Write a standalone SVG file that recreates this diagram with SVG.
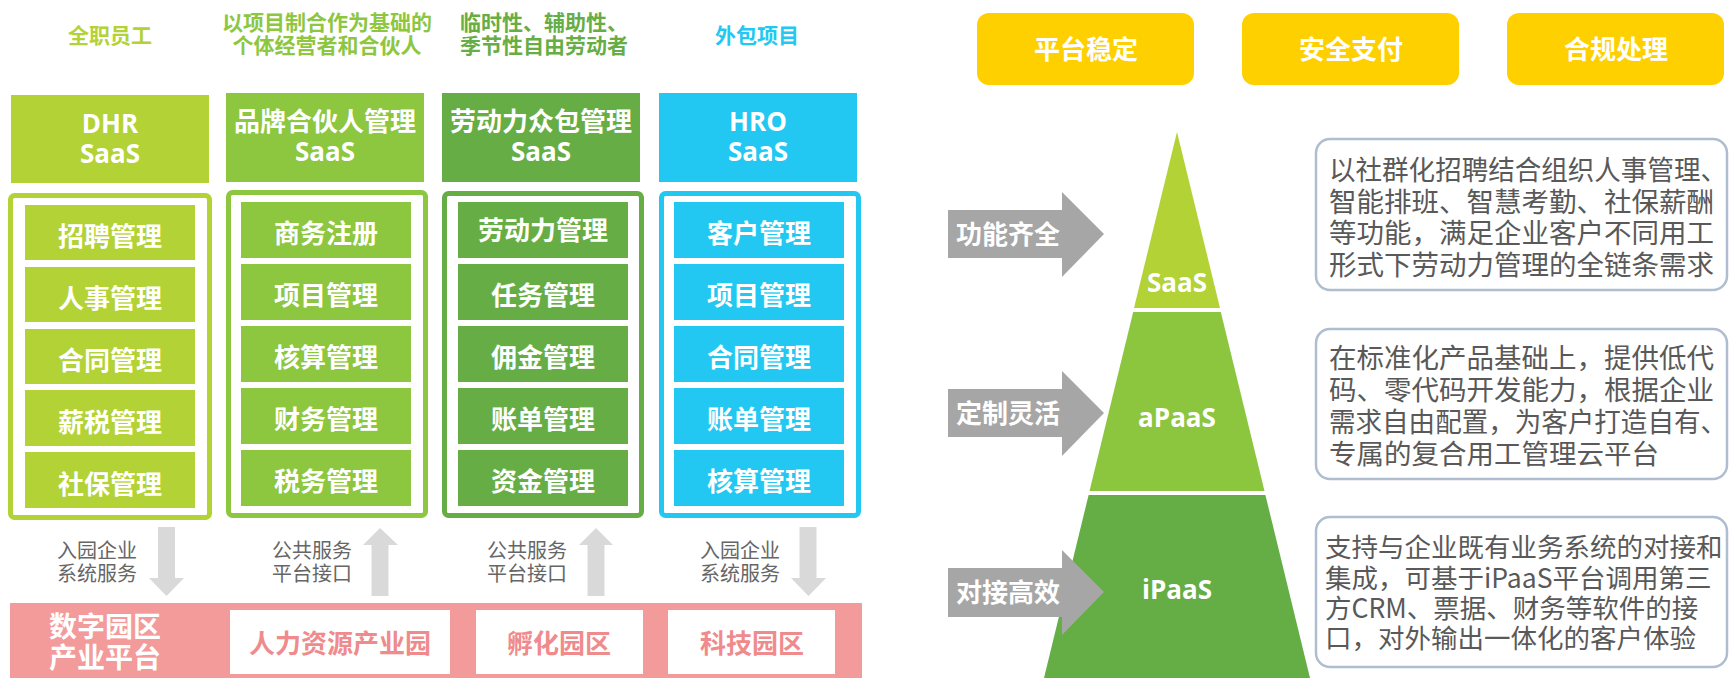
<svg xmlns="http://www.w3.org/2000/svg" width="1729" height="678" viewBox="0 0 1729 678">
<style>
.cjk{font-family:"Noto Sans CJK SC","Noto Sans",sans-serif}
.lat{font-family:"Open Sans","Noto Sans CJK SC",sans-serif}
.b{font-weight:700}
.hd{font-size:21px;font-weight:700;text-anchor:middle}
.hbox{font-size:26px;font-weight:700;fill:#fff;text-anchor:middle}
.item{font-size:26px;font-weight:700;fill:#fff;text-anchor:middle}
.frame{fill:#fff;stroke-width:5}
.svc{font-size:20px;fill:#666;text-anchor:middle}
.garrow{fill:#d9d9d9}
.park{font-size:26px;font-weight:700;fill:#f08b8d;text-anchor:middle}
.btn{fill:#ffd000}
.btnt{font-size:26px;font-weight:700;fill:#fff;text-anchor:middle}
.barrow{fill:#a6a6a6}
.bat{font-size:26px;font-weight:700;fill:#fff;text-anchor:middle}
.pyt{font-size:26px;font-weight:700;fill:#fff;text-anchor:middle}
.desc{fill:#fff;stroke:#aebdd0;stroke-width:2.5}
.dt{font-size:27.5px;fill:#595959}
.dt3{font-size:26.5px;fill:#595959}
</style>

<!-- Column 1: DHR -->
<g id="col1">
  <text class="cjk hd" x="110" y="43" fill="#b2d235">全职员工</text>
  <rect x="11" y="95" width="198" height="88" fill="#b2d235"/>
  <text class="lat hbox" x="110" y="133">DHR</text>
  <text class="lat hbox" x="110" y="163">SaaS</text>
  <rect class="frame" x="10.5" y="195.5" width="199" height="322" rx="4" stroke="#b2d235"/>
  <g fill="#b2d235">
    <rect x="25" y="205" width="170" height="55"/>
    <rect x="25" y="267" width="170" height="55"/>
    <rect x="25" y="329" width="170" height="55"/>
    <rect x="25" y="390" width="170" height="56"/>
    <rect x="25" y="452" width="170" height="56"/>
  </g>
  <text class="cjk item" x="110" y="246">招聘管理</text>
  <text class="cjk item" x="110" y="308">人事管理</text>
  <text class="cjk item" x="110" y="370">合同管理</text>
  <text class="cjk item" x="110" y="432">薪税管理</text>
  <text class="cjk item" x="110" y="494">社保管理</text>
</g>

<!-- Column 2 -->
<g id="col2">
  <text class="cjk hd" x="327" y="30" fill="#8dc63f">以项目制合作为基础的</text>
  <text class="cjk hd" x="327" y="53" fill="#8dc63f">个体经营者和合伙人</text>
  <rect x="226" y="93" width="198" height="89" fill="#8dc63f"/>
  <text class="cjk hbox" x="325" y="131">品牌合伙人管理</text>
  <text class="lat hbox" x="325" y="161">SaaS</text>
  <rect class="frame" x="228.5" y="192.5" width="197" height="323" rx="4" stroke="#8dc63f"/>
  <g fill="#8dc63f">
    <rect x="241" y="202" width="170" height="56"/>
    <rect x="241" y="264" width="170" height="56"/>
    <rect x="241" y="326" width="170" height="56"/>
    <rect x="241" y="388" width="170" height="56"/>
    <rect x="241" y="450" width="170" height="56"/>
  </g>
  <text class="cjk item" x="326" y="243">商务注册</text>
  <text class="cjk item" x="326" y="305">项目管理</text>
  <text class="cjk item" x="326" y="367">核算管理</text>
  <text class="cjk item" x="326" y="429">财务管理</text>
  <text class="cjk item" x="326" y="491">税务管理</text>
</g>

<!-- Column 3 -->
<g id="col3">
  <text class="cjk hd" x="544" y="30" fill="#67ad45">临时性、辅助性、</text>
  <text class="cjk hd" x="544" y="53" fill="#67ad45">季节性自由劳动者</text>
  <rect x="442" y="93" width="198" height="89" fill="#67ad45"/>
  <text class="cjk hbox" x="541" y="131">劳动力众包管理</text>
  <text class="lat hbox" x="541" y="161">SaaS</text>
  <rect class="frame" x="444.5" y="193.5" width="197" height="322" rx="4" stroke="#67ad45"/>
  <g fill="#67ad45">
    <rect x="458" y="202" width="170" height="56"/>
    <rect x="458" y="264" width="170" height="56"/>
    <rect x="458" y="326" width="170" height="56"/>
    <rect x="458" y="388" width="170" height="56"/>
    <rect x="458" y="450" width="170" height="56"/>
  </g>
  <text class="cjk item" x="543" y="240">劳动力管理</text>
  <text class="cjk item" x="543" y="305">任务管理</text>
  <text class="cjk item" x="543" y="367">佣金管理</text>
  <text class="cjk item" x="543" y="429">账单管理</text>
  <text class="cjk item" x="543" y="491">资金管理</text>
</g>

<!-- Column 4 -->
<g id="col4">
  <text class="cjk hd" x="757" y="43" fill="#22c8f2">外包项目</text>
  <rect x="659" y="93" width="198" height="89" fill="#22c8f2"/>
  <text class="lat hbox" x="758" y="131">HRO</text>
  <text class="lat hbox" x="758" y="161">SaaS</text>
  <rect class="frame" x="661.5" y="193.5" width="197" height="322" rx="4" stroke="#22c8f2"/>
  <g fill="#22c8f2">
    <rect x="674" y="202" width="170" height="56"/>
    <rect x="674" y="264" width="170" height="56"/>
    <rect x="674" y="326" width="170" height="56"/>
    <rect x="674" y="388" width="170" height="56"/>
    <rect x="674" y="450" width="170" height="56"/>
  </g>
  <text class="cjk item" x="759" y="243">客户管理</text>
  <text class="cjk item" x="759" y="305">项目管理</text>
  <text class="cjk item" x="759" y="367">合同管理</text>
  <text class="cjk item" x="759" y="429">账单管理</text>
  <text class="cjk item" x="759" y="491">核算管理</text>
</g>

<!-- Connectors: service arrows between columns and park platform -->
<g id="connectors">
  <polygon class="garrow" points="158,527 175,527 175,578 184,578 166.5,596 149,578 158,578"/>
  <polygon class="garrow" points="371.5,596 388.5,596 388.5,545 398,545 380,528 363,545 371.5,545"/>
  <polygon class="garrow" points="587.5,596 604.5,596 604.5,545 613,545 596,528 579,545 587.5,545"/>
  <polygon class="garrow" points="799.5,527 816.5,527 816.5,578 826,578 808.5,596 791,578 799.5,578"/>
</g>
<g id="service-labels">
  <text class="cjk svc" x="97" y="558">入园企业</text>
  <text class="cjk svc" x="97" y="581">系统服务</text>
  <text class="cjk svc" x="312" y="558">公共服务</text>
  <text class="cjk svc" x="312" y="581">平台接口</text>
  <text class="cjk svc" x="527" y="558">公共服务</text>
  <text class="cjk svc" x="527" y="581">平台接口</text>
  <text class="cjk svc" x="740" y="558">入园企业</text>
  <text class="cjk svc" x="740" y="581">系统服务</text>
</g>

<!-- Park platform -->
<g id="park">
  <rect x="10" y="603" width="852" height="75" fill="#f39a9b"/>
  <text class="cjk b" x="105" y="637" font-size="28" fill="#fff" text-anchor="middle">数字园区</text>
  <text class="cjk b" x="105" y="668" font-size="28" fill="#fff" text-anchor="middle">产业平台</text>
  <rect x="230" y="610" width="220" height="64" fill="#fff"/>
  <text class="cjk park" x="340" y="653">人力资源产业园</text>
  <rect x="476" y="610" width="167" height="64" fill="#fff"/>
  <text class="cjk park" x="559" y="653">孵化园区</text>
  <rect x="668" y="610" width="167" height="64" fill="#fff"/>
  <text class="cjk park" x="752" y="653">科技园区</text>
</g>

<!-- Top buttons -->
<g id="btn1"><rect class="btn" x="977" y="13" width="217" height="72" rx="12"/><text class="cjk btnt" x="1086" y="59">平台稳定</text></g>
<g id="btn2"><rect class="btn" x="1242" y="13" width="217" height="72" rx="12"/><text class="cjk btnt" x="1351" y="59">安全支付</text></g>
<g id="btn3"><rect class="btn" x="1507" y="13" width="217" height="72" rx="12"/><text class="cjk btnt" x="1616" y="59">合规处理</text></g>

<!-- Pyramid -->
<g id="pyr-saas">
  <polygon points="1177,132 1220,308 1134,308" fill="#b2d235"/>
  <text class="lat pyt" x="1177" y="292">SaaS</text>
</g>
<g id="pyr-apaas">
  <polygon points="1133.2,312 1220.8,312 1264.5,491 1089.5,491" fill="#8cc63f"/>
  <text class="lat pyt" x="1177" y="427">aPaaS</text>
</g>
<g id="pyr-ipaas">
  <polygon points="1088.6,495 1265.4,495 1310,678 1044,678" fill="#65ad45"/>
  <text class="lat pyt" x="1177" y="599">iPaaS</text>
</g>

<!-- Block arrows -->
<g id="ba1">
  <polygon class="barrow" points="948,210 1062,210 1062,192 1104,234 1062,277 1062,258 948,258"/>
  <text class="cjk bat" x="1008" y="244">功能齐全</text>
</g>
<g id="ba2">
  <polygon class="barrow" points="948,389 1062,389 1062,371 1104,413 1062,456 1062,437 948,437"/>
  <text class="cjk bat" x="1008" y="423">定制灵活</text>
</g>
<g id="ba3">
  <polygon class="barrow" points="948,568 1062,568 1062,550 1104,592 1062,635 1062,617 948,617"/>
  <text class="cjk bat" x="1008" y="602">对接高效</text>
</g>

<!-- Description boxes -->
<g id="desc1">
  <rect class="desc" x="1316" y="139" width="411" height="151" rx="14"/>
  <text class="cjk dt" x="1329" y="180" textLength="398" lengthAdjust="spacingAndGlyphs">以社群化招聘结合组织人事管理、</text>
  <text class="cjk dt" x="1329" y="212">智能排班、智慧考勤、社保薪酬</text>
  <text class="cjk dt" x="1329" y="243">等功能，满足企业客户不同用工</text>
  <text class="cjk dt" x="1329" y="275">形式下劳动力管理的全链条需求</text>
</g>
<g id="desc2">
  <rect class="desc" x="1316" y="329" width="411" height="150" rx="14"/>
  <text class="cjk dt" x="1329" y="368">在标准化产品基础上，提供低代</text>
  <text class="cjk dt" x="1329" y="400">码、零代码开发能力，根据企业</text>
  <text class="cjk dt" x="1329" y="432" textLength="398" lengthAdjust="spacingAndGlyphs">需求自由配置，为客户打造自有、</text>
  <text class="cjk dt" x="1329" y="464">专属的复合用工管理云平台</text>
</g>
<g id="desc3">
  <rect class="desc" x="1316" y="517" width="411" height="150" rx="14"/>
  <text class="cjk dt3" x="1325" y="557">支持与企业既有业务系统的对接和</text>
  <text class="cjk dt3" x="1325" y="588">集成，可基于iPaaS平台调用第三</text>
  <text class="cjk dt3" x="1325" y="618">方CRM、票据、财务等软件的接</text>
  <text class="cjk dt3" x="1325" y="648">口，对外输出一体化的客户体验</text>
</g>
</svg>
